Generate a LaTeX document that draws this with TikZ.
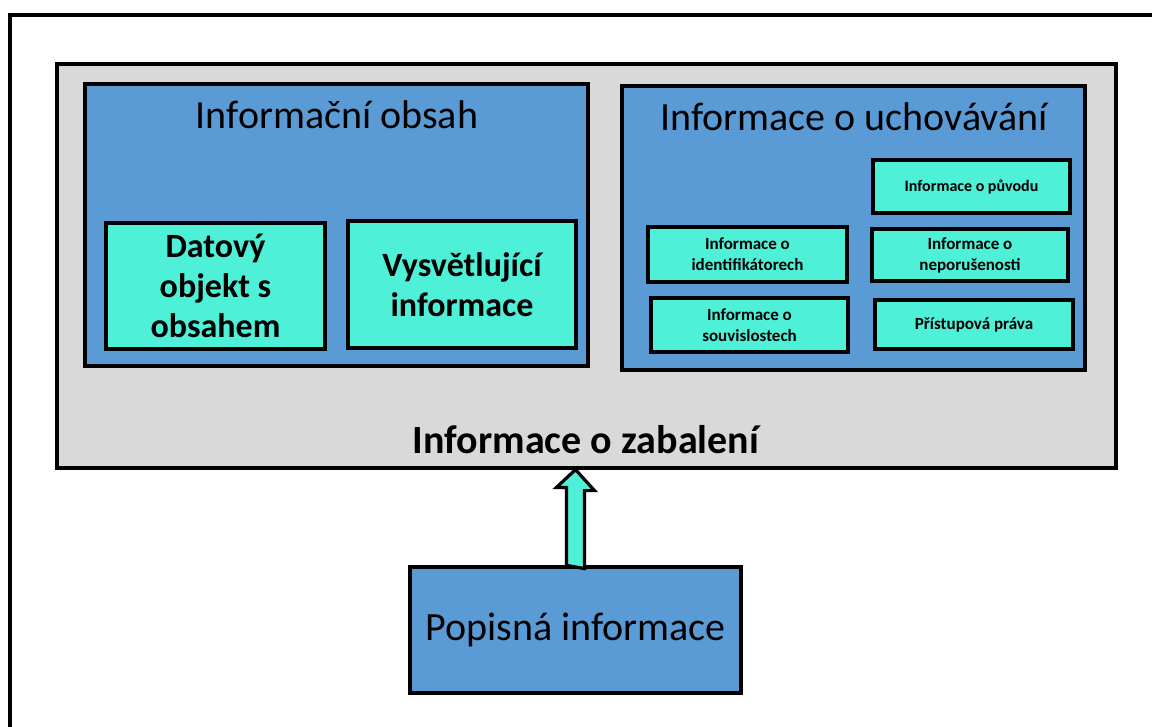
\documentclass[tikz,border=0pt]{standalone}
\usepackage{fontspec}
\setmainfont{Carlito}
\usetikzlibrary{calc}

\definecolor{pkggray}{RGB}{217,217,217}
\definecolor{infoblue}{RGB}{91,155,213}
\definecolor{infoaqua}{RGB}{78,240,216}

\begin{document}
\begin{tikzpicture}[x=0.5pt, y=-0.5pt]
    \tikzset{box/.style={draw, line width=1.6pt, inner sep=0pt, align=center},
        pkgbox/.style={box, fill=pkggray},
        bluebox/.style={box, fill=infoblue},
        aquabox/.style={box, fill=infoaqua, font=\bfseries\fontsize{17}{20}\selectfont},
        smallbox/.style={aquabox, font=\bfseries\fontsize{8.5}{10.5}\selectfont},
        title/.style={anchor=base, inner sep=0pt, font=\fontsize{20}{24}\selectfont},
        blockarr/.style={draw, line width=1.6pt, fill=infoaqua, line join=miter}}
    \useasboundingbox (0,0) rectangle (1152,727);
    \draw[line width=2pt] (10,727) -- (10,15) -- (1152,15); % frame, open to the right and below

    \node[pkgbox, minimum width=529.5pt, minimum height=202pt] (pkg) at (586.5,266) {};
    \node[bluebox, minimum width=251.5pt, minimum height=141pt] (content) at (336.5,225) {};
    \node[bluebox, minimum width=231.5pt, minimum height=142pt] (pres) at (853.5,228) {};

    \node[title] (contentT) at (337,129) {Informační obsah};
    \node[title] (presT) at (854,131) {Informace o uchovávání};
    \node[title, font=\bfseries\fontsize{20}{24}\selectfont] (pkgT) at (586,453) {Informace o zabalení};

    \node[aquabox, minimum width=109.5pt, minimum height=63pt] (data) at (215.5,286)
        {Datový\\objekt s\\obsahem};
    \node[aquabox, minimum width=114pt, minimum height=63.5pt] (repr) at (462,284.5)
        {Vysvětlující\\informace};

    \node[smallbox, minimum width=98.5pt, minimum height=26.5pt,
        font=\bfseries\fontsize{8}{10}\selectfont] (prov) at (971.5,186.5) {Informace o původu};
    \node[smallbox, minimum width=99.5pt, minimum height=27.5pt] (ident) at (747.5,254.5) {Informace o\\identifikátorech};
    \node[smallbox, minimum width=98pt, minimum height=26pt] (fixity) at (970,255) {Informace o\\neporušenosti};
    \node[smallbox, minimum width=98.5pt, minimum height=27pt] (ctx) at (749.5,325) {Informace o\\souvislostech};
    \node[smallbox, minimum width=99pt, minimum height=24.5pt] (access) at (974,324.5) {Přístupová práva};

    \node[bluebox, minimum width=165.5pt, minimum height=63pt,
        font=\fontsize{20}{24}\selectfont] (descr) at (575.5,630) {Popisná informace};

    \draw[blockarr] (descr.north) ++(-9,0) -- ++(0,-78) -- ++(-10,0)
        -- (descr.north |- pkg.south) -- ++(19,21) -- ++(-10,0) -- ++(0,78) -- cycle;
\end{tikzpicture}
\end{document}
